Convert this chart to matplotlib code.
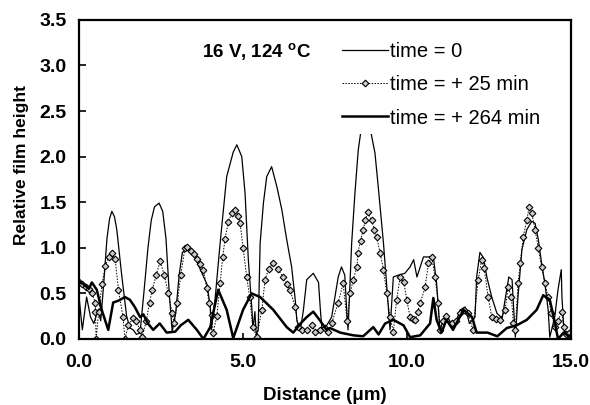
import matplotlib.pyplot as plt

plt.rcParams['font.family'] = ['Liberation Sans', 'DejaVu Sans']

# time = 0 (thin solid line)
x_t0 = [0.0, 0.1, 0.23, 0.35, 0.45, 0.58, 0.66, 0.75, 0.85, 0.93, 1.0, 1.08, 1.15, 1.3, 1.45, 1.55,
        1.65, 1.75, 1.86, 2.0, 2.1, 2.2, 2.3, 2.44, 2.55, 2.65, 2.75, 2.84,
        2.95, 3.05, 3.15, 3.3, 3.5, 3.7, 3.9, 4.0, 4.03,
        4.15, 4.3, 4.5, 4.7, 4.81, 4.96, 5.06, 5.16, 5.27, 5.3, 5.36, 5.4, 5.46,
        5.52, 5.62, 5.72, 5.87, 6.03, 6.18, 6.33, 6.48, 6.59, 6.64, 6.75,
        6.84, 6.94, 7.14, 7.3, 7.35, 7.4, 7.55, 7.7, 7.9, 8.0, 8.1, 8.17, 8.2,
        8.31, 8.41, 8.51, 8.6, 8.75, 8.9, 9.02, 9.12, 9.28, 9.38, 9.45, 9.48,
        9.58, 9.73, 9.93, 10.09, 10.2, 10.3, 10.4, 10.5, 10.65, 10.8, 10.9, 11.0,
        11.1, 11.25, 11.4, 11.62, 11.77, 11.9, 12.07,
        12.12, 12.22, 12.33, 12.43, 12.58, 12.74, 12.9, 13.0, 13.1, 13.2, 13.25, 13.3,
        13.38, 13.5, 13.65, 13.8, 13.9, 14.0, 14.1, 14.2, 14.3, 14.35,
        14.5, 14.6, 14.7, 14.72, 14.78, 14.9, 15.0]
y_t0 = [0.46, 0.1, 0.46, 0.24, 0.17, 0.32, 0.2, 0.6, 1.1, 1.32, 1.4, 1.34, 1.2, 0.7, 0.25, 0.12,
        0.1, 0.05, 0.07, 0.6, 1.0, 1.3, 1.45, 1.49, 1.4, 1.1, 0.5, 0.08,
        0.3, 0.7, 0.95, 1.0, 0.92, 0.76, 0.6, 0.35, 0.1,
        0.45, 1.05, 1.78, 2.05, 2.13, 2.0, 1.6, 0.87, 0.32, 0.1, 0.3, 0.05, 0.1,
        1.05, 1.49, 1.78, 1.89, 1.67, 1.42, 1.09, 0.79, 0.43, 0.2, 0.1,
        0.32, 0.65, 0.72, 0.62, 0.35, 0.12, 0.15, 0.24, 0.68, 0.79, 0.7, 0.24, 0.1,
        1.05, 1.6, 2.07, 2.3, 2.45, 2.26, 2.04, 1.67, 1.05, 0.57, 0.24, 0.1,
        0.68, 0.7, 0.72, 0.79, 0.87, 0.68, 0.79, 0.9, 0.9, 0.9, 0.61, 0.1,
        0.2, 0.24, 0.1, 0.32, 0.35, 0.17, 0.24,
        0.68, 0.95, 0.89, 0.68, 0.46, 0.28, 0.23, 0.46, 0.68, 0.65, 0.32, 0.02,
        0.46, 0.98, 1.2, 1.29, 1.27, 1.09, 0.83, 0.61, 0.32, 0.02,
        0.24, 0.54, 0.76, 0.46, 0.1, 0.02, 0.05]

# time = +25 min (dotted line with diamonds)
x_t25 = [0.0, 0.1, 0.2, 0.3, 0.4, 0.49, 0.5, 0.52, 0.6, 0.7, 0.8, 0.9, 1.0, 1.1, 1.2, 1.34, 1.4,
         1.5, 1.65, 1.75, 1.85, 1.92, 2.05, 2.15, 2.23, 2.35, 2.47, 2.6, 2.72, 2.84, 2.9,
         3.0, 3.1, 3.23, 3.3, 3.4, 3.5, 3.6, 3.7, 3.79, 3.89, 3.96, 4.04, 4.09,
         4.2, 4.3, 4.38, 4.45, 4.55, 4.65, 4.76, 4.85, 4.91, 5.0, 5.11, 5.2, 5.3, 5.42,
         5.57, 5.67, 5.78, 5.92, 6.05, 6.22, 6.33, 6.43, 6.59, 6.68,
         6.8, 6.95, 7.1, 7.2, 7.35, 7.5, 7.6, 7.7, 7.9, 8.05, 8.17, 8.26, 8.36, 8.47, 8.5,
         8.58, 8.66, 8.73, 8.8, 8.92, 9.0, 9.07, 9.18, 9.28, 9.38, 9.48, 9.58,
         9.68, 9.79, 9.9, 9.99, 10.09, 10.17, 10.25, 10.32, 10.4, 10.55, 10.65, 10.75, 10.85,
         10.95, 11.0, 11.1, 11.2, 11.36, 11.5, 11.6, 11.72, 11.87, 12.0,
         12.17, 12.27, 12.35, 12.47, 12.58, 12.7, 12.84, 12.99, 13.08, 13.18, 13.24, 13.3,
         13.38, 13.45, 13.54, 13.65, 13.72, 13.8, 13.9, 14.0, 14.1, 14.2, 14.3, 14.4, 14.5,
         14.6, 14.72, 14.77, 14.85, 14.93, 15.0]
y_t25 = [0.62, 0.6, 0.57, 0.55, 0.5, 0.4, 0.3, 0.0, 0.3, 0.6, 0.8, 0.9, 0.94, 0.88, 0.54, 0.24, 0.0,
         0.15, 0.23, 0.2, 0.1, 0.02, 0.2, 0.4, 0.54, 0.7, 0.85, 0.7, 0.5, 0.28, 0.17,
         0.4, 0.7, 1.0, 1.01, 0.97, 0.93, 0.88, 0.82, 0.76, 0.56, 0.4, 0.26, 0.07,
         0.25, 0.61, 0.9, 1.1, 1.28, 1.38, 1.42, 1.35, 1.27, 1.0, 0.68, 0.46, 0.13, 0.02,
         0.32, 0.65, 0.77, 0.83, 0.77, 0.68, 0.6, 0.54, 0.35, 0.13,
         0.1, 0.1, 0.15, 0.08, 0.1, 0.12, 0.08, 0.17, 0.4, 0.61, 0.2, 0.5, 0.65, 0.79, 0.94,
         1.08, 1.2, 1.3, 1.39, 1.3, 1.2, 1.12, 0.94, 0.76, 0.5, 0.24, 0.08,
         0.43, 0.68, 0.62, 0.43, 0.24, 0.22, 0.21, 0.3, 0.39, 0.57, 0.83, 0.9, 0.68,
         0.4, 0.1, 0.2, 0.25, 0.17, 0.2, 0.28, 0.32, 0.28, 0.1,
         0.65, 0.87, 0.78, 0.46, 0.24, 0.22, 0.21, 0.32, 0.57, 0.46, 0.17, 0.1,
         0.61, 0.83, 1.12, 1.3, 1.45, 1.38, 1.2, 1.0, 0.79, 0.61, 0.46, 0.28, 0.13,
         0.2, 0.3, 0.13, 0.05, 0.07, 0.03]

# time = +264 min (thick solid line)
x_t264 = [0.0, 0.18, 0.3, 0.39, 0.54, 0.69, 0.89, 1.04, 1.2, 1.4, 1.55, 1.7, 1.86, 1.96, 2.1,
          2.26, 2.46, 2.67, 2.93, 3.1, 3.33, 3.59, 3.79, 4.0, 4.24, 4.5, 4.7, 5.0, 5.26,
          5.52, 5.92, 6.33, 6.53, 6.75, 6.94, 7.14, 7.35, 7.55, 7.65, 7.96, 8.36, 8.66,
          8.97, 9.13, 9.33, 9.58, 9.89, 10.09, 10.4, 10.7, 10.8, 10.9, 11.05, 11.2, 11.4,
          11.72, 11.98, 12.12, 12.45, 12.75, 13.04, 13.34, 13.65, 13.95, 14.15, 14.35,
          14.51, 14.6, 14.77, 14.95]
y_t264 = [0.63, 0.59, 0.55, 0.62, 0.54, 0.32, 0.1, 0.4, 0.42, 0.46, 0.43, 0.35, 0.24, 0.27, 0.17,
          0.1, 0.17, 0.07, 0.08, 0.15, 0.21, 0.1, 0.0, 0.13, 0.54, 0.32, 0.01, 0.32, 0.5,
          0.46, 0.32, 0.13, 0.07, 0.17, 0.24, 0.3, 0.2, 0.1, 0.12, 0.07, 0.04, 0.03,
          0.13, 0.05, 0.17, 0.21, 0.15, 0.02, 0.04, 0.17, 0.45, 0.21, 0.07, 0.21, 0.1,
          0.32, 0.24, 0.07, 0.07, 0.03, 0.12, 0.15, 0.21, 0.32, 0.48, 0.43,
          0.17, 0.0, 0.07, 0.03]

x_ticks = [0.0, 5.0, 10.0, 15.0]
y_ticks = [0.0, 0.5, 1.0, 1.5, 2.0, 2.5, 3.0, 3.5]

fig = plt.figure(figsize=(5.9, 4.05), dpi=100)
ax = fig.add_axes([0.134, 0.163, 0.834, 0.788])

ax.plot(x_t0, y_t0, color='black', lw=0.9, label='time = 0')
ax.plot(x_t25, y_t25, color='black', lw=0.7, ls=(0, (1.5, 1.5)), marker='D', ms=3.4,
        mfc='#cccccc', mec='black', mew=0.8, label='time = + 25 min')
ax.plot(x_t264, y_t264, color='black', lw=1.8, label='time = + 264 min')

ax.set_xlim(0, 15)
ax.set_ylim(0, 3.5)
ax.set_xticks(x_ticks)
ax.set_yticks(y_ticks)
ax.set_xticklabels([f'{v:.1f}' for v in x_ticks], fontsize=14, fontweight='bold')
ax.set_yticklabels([f'{v:.1f}' for v in y_ticks], fontsize=14, fontweight='bold')
ax.tick_params(axis='x', direction='in', length=4, width=1.2, pad=11)
ax.tick_params(axis='y', direction='in', length=5, width=1.2, pad=9)
for s in ax.spines.values():
    s.set_linewidth(1.6)

ax.set_xlabel('Distance (\u03bcm)', fontsize=13.5, fontweight='bold', labelpad=11)
ax.set_ylabel('Relative film height', fontsize=12.5, fontweight='bold', labelpad=8)
ax.yaxis.set_label_coords(-0.102, 0.545)

ax.text(0.25, 0.9, '16 V, 124 $\\mathregular{^{o}}$C', transform=ax.transAxes,
        fontsize=13.5, fontweight='bold', va='center')

leg = ax.legend(loc='upper left', bbox_to_anchor=(0.501, 0.98), fontsize=14.5,
                handlelength=2.3, handletextpad=0.1, labelspacing=0.7,
                frameon=True, framealpha=1, facecolor='white', edgecolor='none',
                borderpad=0.3)

fig.savefig('out.png', dpi=100)
